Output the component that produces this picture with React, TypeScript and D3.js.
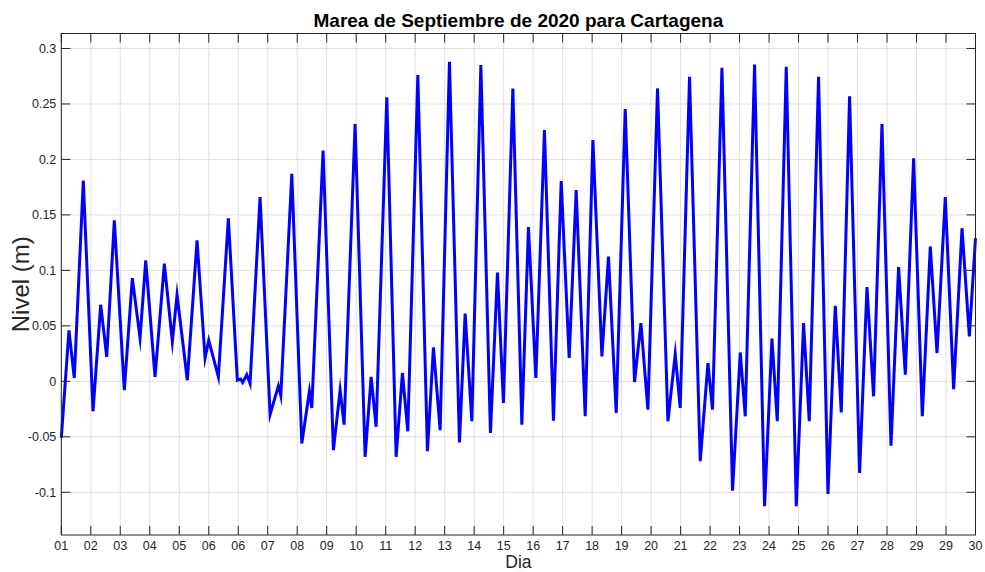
import React, { useEffect, useRef } from 'react';
import * as d3 from 'd3';

const W = 985;
const H = 572;

// tiempo en unidades de marca del eje (0 = primera marca, 31 = ultima)
const tiempo = [
  0, 0.26, 0.44, 0.746, 1.075, 1.336, 1.54, 1.798, 2.137, 2.408, 2.67, 2.863,
  3.178, 3.494, 3.765, 3.925, 4.274, 4.603, 4.875, 5.0, 5.326, 5.665, 5.97,
  6.085, 6.153, 6.289, 6.401, 6.74, 7.08, 7.361, 7.443, 7.816, 8.155, 8.413,
  8.494, 8.877, 9.227, 9.454, 9.59, 9.963, 10.302, 10.506, 10.675, 11.038,
  11.354, 11.567, 11.75, 12.09, 12.415, 12.619, 12.846, 13.162, 13.501, 13.694,
  13.921, 14.227, 14.552, 14.79, 14.993, 15.312, 15.617, 15.841, 16.092, 16.384,
  16.689, 16.951, 17.222, 17.459, 17.765, 18.026, 18.331, 18.555, 18.816,
  19.122, 19.437, 19.654, 19.891, 20.217, 20.57, 20.818, 20.987, 21.303,
  21.666, 21.927, 22.083, 22.402, 22.761, 23.023, 23.192, 23.508, 23.847,
  24.098, 24.278, 24.583, 24.922, 25.17, 25.363, 25.678, 25.997, 26.245,
  26.448, 26.73, 27.07, 27.32, 27.544, 27.829, 28.134, 28.392, 28.62, 28.901,
  29.196, 29.467, 29.695, 29.976, 30.258, 30.543, 30.791, 31,
];

const nivel = [
  -0.051, 0.046, 0.003, 0.181, -0.027, 0.069, 0.022, 0.145, -0.008, 0.093,
  0.039, 0.109, 0.004, 0.106, 0.036, 0.078, 0.001, 0.127, 0.021, 0.037,
  0.004, 0.147, 0.001, 0.002, -0.001, 0.006, -0.002, 0.166, -0.03, -0.004,
  -0.013, 0.187, -0.056, -0.009, -0.024, 0.208, -0.062, -0.008, -0.039, 0.232,
  -0.068, 0.004, -0.041, 0.256, -0.068, 0.0075, -0.045, 0.276, -0.063, 0.0305,
  -0.044, 0.288, -0.055, 0.061, -0.036, 0.285, -0.0465, 0.098, -0.0195, 0.264,
  -0.039, 0.139, 0.003, 0.2265, -0.0355, 0.1805, 0.021, 0.1725, -0.0315,
  0.2175, 0.0225, 0.1125, -0.0285, 0.2455, -0.0006, 0.0525, -0.0255, 0.264,
  -0.036, 0.0245, -0.024, 0.2745, -0.072, 0.0165, -0.0255, 0.2825, -0.0985,
  0.026, -0.0315, 0.2855, -0.1125, 0.0385, -0.036, 0.2835, -0.1125, 0.0525,
  -0.036, 0.2745, -0.1015, 0.068, -0.028, 0.257, -0.0825, 0.085, -0.0135,
  0.232, -0.058, 0.103, 0.006, 0.201, -0.0315, 0.1215, 0.0255, 0.166, -0.007,
  0.138, 0.0405, 0.129,
];

const etiquetasDia = [
  '01', '02', '03', '04', '05', '06', '06', '07', '08', '09', '10', '11', '12',
  '13', '14', '15', '16', '17', '18', '19', '20', '21', '22', '23', '24', '25',
  '26', '27', '28', '29', '29', '30',
];

const ticksNivel = [-0.1, -0.05, 0, 0.05, 0.1, 0.15, 0.2, 0.25, 0.3];

const App = () => {
  const ref = useRef(null);

  useEffect(() => {
    const svg = d3.select(ref.current);
    svg.selectAll('*').remove();

    const left = 61.3, right = 975.5, top = 33.5, bottom = 535;
    const font = 'Liberation Sans, Arial, Helvetica, sans-serif';
    const axisColor = '#262626';
    const tickLen = 9;

    const x = d3.scaleLinear().domain([0, etiquetasDia.length - 1]).range([left, right]);
    const y = d3.scaleLinear().domain([-0.1385, 0.3135]).range([bottom, top]);

    svg.append('rect').attr('width', W).attr('height', H).attr('fill', '#fff');

    // grid
    const grid = svg.append('g').attr('stroke', '#e0e0e0').attr('stroke-width', 1);
    etiquetasDia.forEach((_, i) => {
      grid.append('line')
        .attr('x1', x(i)).attr('x2', x(i))
        .attr('y1', top).attr('y2', bottom);
    });
    ticksNivel.forEach((v) => {
      grid.append('line')
        .attr('x1', left).attr('x2', right)
        .attr('y1', y(v)).attr('y2', y(v));
    });

    // serie
    const line = d3.line()
      .x((d, i) => x(tiempo[i]))
      .y((d) => y(d));

    svg.append('path')
      .datum(nivel)
      .attr('d', line)
      .attr('fill', 'none')
      .attr('stroke', '#0000ff')
      .attr('stroke-width', 3)
      .attr('stroke-linejoin', 'miter')
      .attr('stroke-miterlimit', 10);

    // ticks (hacia dentro, en los cuatro lados)
    const ticks = svg.append('g').attr('stroke', axisColor).attr('stroke-width', 1);
    etiquetasDia.forEach((_, i) => {
      ticks.append('line').attr('x1', x(i)).attr('x2', x(i)).attr('y1', bottom).attr('y2', bottom - tickLen);
      ticks.append('line').attr('x1', x(i)).attr('x2', x(i)).attr('y1', top).attr('y2', top + tickLen);
    });
    ticksNivel.forEach((v) => {
      ticks.append('line').attr('x1', left).attr('x2', left + tickLen).attr('y1', y(v)).attr('y2', y(v));
      ticks.append('line').attr('x1', right).attr('x2', right - tickLen).attr('y1', y(v)).attr('y2', y(v));
    });

    svg.append('rect')
      .attr('x', left).attr('y', top)
      .attr('width', right - left).attr('height', bottom - top)
      .attr('fill', 'none')
      .attr('stroke', axisColor)
      .attr('stroke-width', 1);

    // etiquetas
    svg.append('g')
      .selectAll('text')
      .data(etiquetasDia)
      .join('text')
      .attr('x', (d, i) => x(i))
      .attr('y', bottom + 15)
      .attr('text-anchor', 'middle')
      .attr('font-family', font)
      .attr('font-size', 12.5)
      .attr('fill', axisColor)
      .text((d) => d);

    svg.append('g')
      .selectAll('text')
      .data(ticksNivel)
      .join('text')
      .attr('x', left - 5)
      .attr('y', (d) => y(d) + 4.5)
      .attr('text-anchor', 'end')
      .attr('font-family', font)
      .attr('font-size', 12.5)
      .attr('fill', axisColor)
      .text((d) => String(+d.toFixed(2)));

    svg.append('text')
      .attr('x', (left + right) / 2)
      .attr('y', 27)
      .attr('text-anchor', 'middle')
      .attr('font-family', font)
      .attr('font-weight', 'bold')
      .attr('font-size', 19)
      .attr('fill', '#000')
      .text('Marea de Septiembre de 2020 para Cartagena');

    svg.append('text')
      .attr('x', (left + right) / 2)
      .attr('y', 568)
      .attr('text-anchor', 'middle')
      .attr('font-family', font)
      .attr('font-size', 17.5)
      .attr('fill', axisColor)
      .text('Dia');

    svg.append('text')
      .attr('transform', `translate(29,${(top + bottom) / 2}) rotate(-90)`)
      .attr('text-anchor', 'middle')
      .attr('font-family', font)
      .attr('font-size', 24)
      .attr('fill', axisColor)
      .text('Nivel (m)');
  }, []);

  return (
    <svg
      ref={ref}
      width={W}
      height={H}
      style={{ position: 'absolute', left: 0, top: 0 }}
    />
  );
};

export default App;
